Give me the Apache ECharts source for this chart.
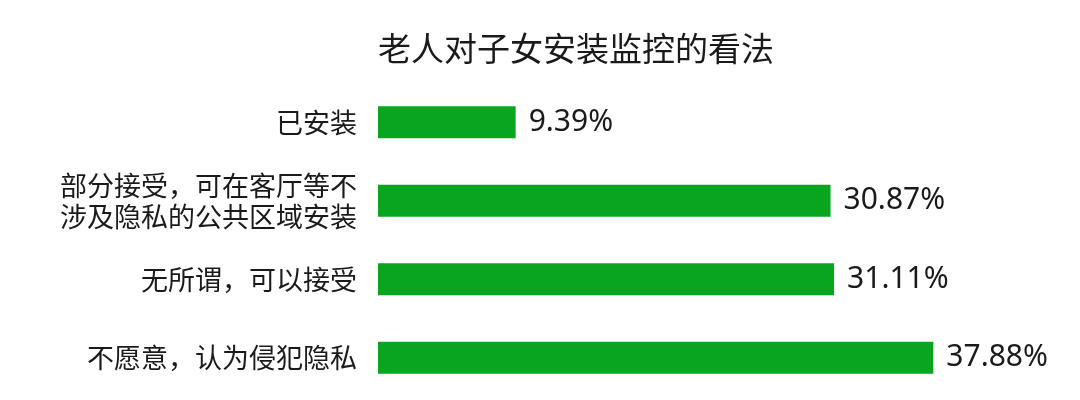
<!DOCTYPE html>
<html>
<head>
<meta charset="utf-8">
<script src="https://cdn.jsdelivr.net/npm/echarts@6/dist/echarts.min.js"></script>
<style>html,body{margin:0;padding:0;background:#fff;}#c{width:1080px;height:400px;}</style>
</head>
<body>
<div id="c"></div>
<script>
const titleText = '老人对子女安装监控的看法';
const categories = ['已安装', '部分接受，可在客厅等不\n涉及隐私的公共区域安装', '无所谓，可以接受', '不愿意，认为侵犯隐私'];
const values = [9.39, 30.87, 31.11, 37.88];

const chart = echarts.init(document.getElementById('c'));
chart.setOption({
  backgroundColor: '#fff',
  animation: false,
  title: {
    text: titleText,
    left: 373,
    top: 27,
    textStyle: { fontFamily: 'Noto Sans CJK SC', fontSize: 33, fontWeight: 'normal', color: '#1a1a1a' }
  },
  grid: { left: 378, right: 115.6, top: 83, height: 314, containLabel: false },
  xAxis: { type: 'value', min: 0, max: 40, show: false },
  yAxis: {
    type: 'category',
    data: categories,
    inverse: true,
    axisLine: { show: false },
    axisTick: { show: false },
    splitLine: { show: false },
    axisLabel: { fontFamily: 'Noto Sans CJK SC', fontSize: 27, lineHeight: 31, color: '#1a1a1a', margin: 21, align: 'right' }
  },
  series: [{
    type: 'bar',
    data: values,
    barWidth: 32,
    itemStyle: { color: '#09a51e' },
    label: {
      show: true,
      position: 'right',
      distance: 13,
      formatter: '{c}%',
      fontFamily: 'Noto Sans',
      fontSize: 30,
      color: '#1a1a1a'
    }
  }]
});
</script>
</body>
</html>
